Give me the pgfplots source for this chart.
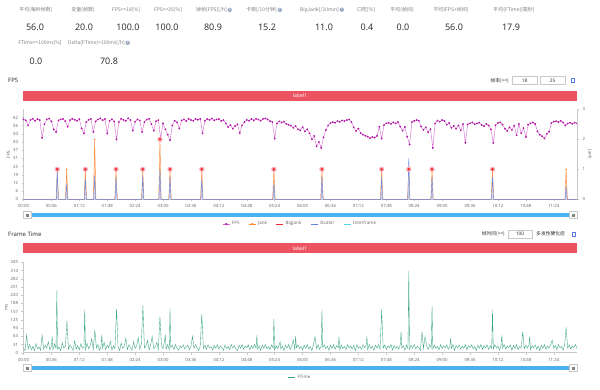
\documentclass[border=0pt]{standalone}
\usepackage{pgfplots}
\pgfplotsset{compat=1.18}
\usepackage{fontspec}
\setmainfont{Noto Sans}
\newfontfamily\cjk{Noto Sans CJK SC}
\definecolor{lbl}{RGB}{130,130,130}
\definecolor{val}{RGB}{51,51,51}
\definecolor{barred}{RGB}{236,84,98}
\definecolor{slider}{RGB}{41,163,240}
\definecolor{fpsline}{RGB}{210,100,205}
\definecolor{fpsmark}{RGB}{180,25,165}
\definecolor{jank}{RGB}{255,138,61}
\definecolor{bigjank}{RGB}{240,40,50}
\definecolor{halo}{RGB}{250,175,180}
\definecolor{stutter}{RGB}{95,135,225}
\definecolor{interf}{RGB}{80,215,230}
\definecolor{ftime}{RGB}{55,165,120}
\definecolor{axisgray}{RGB}{200,200,200}
\definecolor{ticktext}{RGB}{110,110,110}
\definecolor{qcol}{RGB}{150,165,190}
\definecolor{iconblue}{RGB}{90,120,230}
\newcommand{\qm}{\hspace{0.8pt}\raisebox{-0.4pt}{\tikz{\node[circle,fill=qcol,text=white,inner sep=0pt,minimum size=4.3pt,font=\fontsize{3.4}{3.4}\selectfont\bfseries]{?};}}}
\pgfplotsset{
  base/.style={scale only axis, width=553.5pt, xmin=0, xmax=714,
    axis line style={axisgray, line width=0.5pt},
    tick style={axisgray, line width=0.4pt}, major tick length=2pt, tick align=outside,
    ticklabel style={font=\fontsize{4.3}{5}\selectfont, text=ticktext},
    label style={font=\fontsize{4.5}{5}\selectfont, text=ticktext},
    /pgf/number format/assume math mode=true,
    xtick={0,36,...,684},
    xticklabels={00:00,00:36,01:12,01:48,02:24,03:00,03:36,04:12,04:48,05:24,06:00,06:36,07:12,07:48,08:24,09:00,09:36,10:12,10:48,11:24},
    legend style={draw=none, fill=none, font=\fontsize{4.5}{5}\selectfont, text=ticktext,
      /tikz/every even column/.append style={column sep=7pt}},
    legend image code/.code={\draw[mark repeat=2,mark phase=2,##1] plot coordinates {(0pt,0pt) (3.5pt,0pt) (7pt,0pt)};},
  },
}
\begin{document}
\begin{tikzpicture}
\path[fill=white] (0pt,0pt) rectangle (600pt,389pt);
% ---------- stats header and chrome ----------
\begin{scope}[x=1pt,y=1pt,every node/.style={inner sep=0pt}]
\def\LY{379}\def\VY{362}
\tikzset{lab/.style={font=\cjk\fontsize{5}{6}\selectfont, text=lbl}, num/.style={font=\fontsize{9}{10}\selectfont, text=val}}
\node[lab] at (36,\LY) {平均(每秒帧数)};        \node[num] at (35,\VY) {56.0};
\node[lab] at (83,\LY) {变量(帧数)};            \node[num] at (84,\VY) {20.0};
\node[lab] at (126,\LY) {FPS>=18[\%]};          \node[num] at (128,\VY) {100.0};
\node[lab] at (168,\LY) {FPS>=25[\%]};          \node[num] at (167,\VY) {100.0};
\node[lab] at (214,\LY) {掉帧(FPS)[/h]\qm};     \node[num] at (213,\VY) {80.9};
\node[lab] at (264,\LY) {卡顿[/10分钟]\qm};     \node[num] at (267,\VY) {15.2};
\node[lab] at (322,\LY) {BigJank[/10min]\qm};   \node[num] at (324,\VY) {11.0};
\node[lab] at (366,\LY) {口吃[\%]};             \node[num] at (367,\VY) {0.4};
\node[lab] at (402,\LY) {平均(帧间)};           \node[num] at (403,\VY) {0.0};
\node[lab] at (451,\LY) {平均(FPS+帧间)};       \node[num] at (454,\VY) {56.0};
\node[lab] at (514,\LY) {平均(FTime)[毫秒]};    \node[num] at (511,\VY) {17.9};
\node[lab] at (40,346) {FTime>=100ms[\%]};      \node[num] at (36,328) {0.0};
\node[lab] at (99,346) {Delta(FTime)>100ms[/h]\qm}; \node[num] at (109,328) {70.8};
% FPS section chrome
\node[anchor=west, font=\fontsize{6}{7}\selectfont\bfseries, text=val] at (8,308.5) {FPS};
\node[anchor=east, font=\cjk\fontsize{4.8}{5}\selectfont, text=val] at (509,308.5) {帧率(>=)};
\draw[axisgray, line width=0.4pt, fill=white] (512,304.5) rectangle (537,312.5);
\node[font=\fontsize{4.8}{5}\selectfont, text=val] at (524.5,308.5) {18};
\draw[axisgray, line width=0.4pt, fill=white] (540,304.5) rectangle (565,312.5);
\node[font=\fontsize{4.8}{5}\selectfont, text=val] at (552.5,308.5) {25};
\draw[iconblue, line width=0.5pt] (571.5,306.5) rectangle (574.5,310.5);
\fill[barred] (23,288.3) rectangle (577,298.3);
\node[font=\fontsize{5}{6}\selectfont\bfseries, text=white] at (300,293.3) {label1};
\fill[slider!85] (27,172) rectangle (573,176.5);
\draw[axisgray, fill=white, line width=0.4pt] (23,170.5) rectangle (31,178);
\draw[lbl, line width=0.3pt] (25.5,173.3)--(28.5,173.3) (25.5,174.3)--(28.5,174.3) (25.5,175.3)--(28.5,175.3);
\draw[axisgray, fill=white, line width=0.4pt] (569,170.5) rectangle (577,178);
\draw[lbl, line width=0.3pt] (571.5,173.3)--(574.5,173.3) (571.5,174.3)--(574.5,174.3) (571.5,175.3)--(574.5,175.3);
% Frame time section chrome
\node[anchor=west, font=\fontsize{6}{7}\selectfont\bfseries, text=val] at (8,154.7) {Frame Time};
\node[anchor=east, font=\cjk\fontsize{4.8}{5}\selectfont, text=val] at (505,155) {帧时间(>=)};
\draw[axisgray, line width=0.4pt, fill=white] (508,151) rectangle (532,159);
\node[font=\fontsize{4.8}{5}\selectfont, text=val] at (520,155) {100};
\node[anchor=west, font=\cjk\fontsize{4.8}{5}\selectfont, text=val] at (536,155) {多发性硬化症};
\draw[iconblue, line width=0.5pt] (572.5,153) rectangle (575.5,157);
\fill[barred] (23,135.7) rectangle (577,145.7);
\node[font=\fontsize{5}{6}\selectfont\bfseries, text=white] at (300,140.7) {label1};
\fill[slider!85] (27,19) rectangle (573,23.5);
\draw[axisgray, fill=white, line width=0.4pt] (23,17.5) rectangle (31,25);
\draw[lbl, line width=0.3pt] (25.5,20.3)--(28.5,20.3) (25.5,21.3)--(28.5,21.3) (25.5,22.3)--(28.5,22.3);
\draw[axisgray, fill=white, line width=0.4pt] (569,17.5) rectangle (577,25);
\draw[lbl, line width=0.3pt] (571.5,20.3)--(574.5,20.3) (571.5,21.3)--(574.5,21.3) (571.5,22.3)--(574.5,22.3);
\end{scope}

% ---------- FPS chart: left axis ----------
\begin{axis}[base, at={(23.5pt,189.7pt)}, anchor=south west, height=90pt,
  ymin=0, ymax=68.2,
  axis x line*=bottom, axis y line*=left,
  ytick={0,6.2,12.4,18.6,24.8,31,37.2,43.4,49.6,55.8,62},
  yticklabels={0,6,12,19,25,31,37,43,50,56,62},
  ylabel={FPS}, ylabel style={yshift=-4pt}]
\addplot[color=fpsline, line width=0.4pt, mark=*, mark size=0.7pt, mark options={color=fpsmark}] coordinates {
(0,60.5)(3,59.8)(6,56)(9,60.2)(12,61)(15,59.5)(18,60.8)(21,60)(24,46.6)(27,57)(30,60.5)(33,61.2)(36,59)(39,53)(42,51)(45,59.8)(48,60.5)(51,61)(54,59.2)(57,55)(60,60)(63,61)(66,60.3)(69,59.5)(72,60.8)(75,53.7)(78,50)(81,58.5)(84,60.2)(87,60.9)(90,51)(93,59)(96,60.5)(99,61.3)(102,59.9)(105,60.8)(108,50)(111,59.5)(114,60.6)(117,59)(120,45.4)(123,58.5)(126,61)(129,60.2)(132,59.4)(135,61.5)(138,60)(141,52)(144,58.8)(147,60.5)(150,59.7)(153,51)(156,58.5)(159,60.4)(162,61)(165,57)(168,52)(171,59.2)(174,60)(177,46)(180,57.5)(183,53)(186,49)(189,44.8)(192,56)(195,59.5)(198,58.3)(201,53.6)(204,59.8)(207,60.5)(210,59.2)(213,61)(216,60.1)(219,59.5)(222,60.8)(225,60.3)(228,61)(231,50)(234,59.6)(237,60.8)(240,60.2)(243,61.2)(246,59.8)(249,60.5)(252,60.9)(255,59.4)(258,60)(261,57.5)(264,54.8)(267,56.2)(270,53.5)(273,55.5)(276,56.8)(279,50.2)(282,56)(285,58.5)(288,60.2)(291,59.5)(294,60.8)(297,59.8)(300,61)(303,60.4)(306,59.6)(309,60.9)(312,61.3)(315,60.5)(318,59.2)(321,58.5)(324,46)(327,57.5)(330,59)(333,58.2)(336,58.8)(339,57.2)(342,56.5)(345,55.8)(348,54.2)(351,55.5)(354,53)(357,52.2)(360,54.6)(363,51.5)(366,53)(369,50)(372,45.5)(375,48)(378,40.2)(381,43.5)(384,39)(387,47)(390,52.5)(393,56)(396,57.8)(399,58.5)(402,58)(405,59.2)(408,58.6)(411,59.8)(414,59.3)(417,60)(420,60.5)(423,58.5)(426,54.6)(429,51.8)(432,53.5)(435,50.2)(438,49)(441,48.2)(444,47.5)(447,46.3)(450,47.2)(453,46.8)(456,48)(459,55)(462,46)(465,56.2)(468,57.6)(471,58)(474,57.2)(477,58.3)(480,57.5)(483,58.6)(486,55)(489,52)(492,54.8)(495,47.5)(498,41.5)(501,58.5)(504,59.4)(507,60.1)(510,59.6)(513,55.2)(516,52.6)(519,54.5)(522,50.8)(525,53.2)(528,39)(531,57.5)(534,59.6)(537,58.8)(540,60.1)(543,59.4)(546,56.5)(549,57.8)(552,54.2)(555,55.6)(558,53.5)(561,56)(564,52.3)(567,57)(570,42.8)(573,56.8)(576,57.6)(579,58.2)(582,56.9)(585,57.5)(588,58.1)(591,56.3)(594,55.4)(597,57.2)(600,55.9)(603,53)(606,42.8)(609,56.2)(612,57.8)(615,58.4)(618,56.6)(621,53.5)(624,51.8)(627,54.5)(630,52.6)(633,55.8)(636,48.5)(639,57)(642,50.2)(645,54)(648,47.2)(651,56.5)(654,57.6)(657,58.2)(660,57)(663,51.5)(666,49)(669,47.8)(672,46.2)(675,49.5)(678,51.2)(681,57.8)(684,58.9)(687,59.2)(690,58.6)(693,59.4)(696,58.2)(699,56)(702,57.4)(705,58)(708,57.2)(711,58.1)(714,57.6)
};
\end{axis}
% ---------- FPS chart: right axis ----------
\begin{axis}[base, at={(23.5pt,189.7pt)}, anchor=south west, height=90pt,
  ymin=0, ymax=3, axis x line=none, axis y line*=right,
  ytick={0,1,2,3},
  ylabel={Jank}, ylabel style={rotate=180, yshift=-4pt},
  legend columns=5, legend style={at={(axis description cs:0.5,-0.274)}, anchor=center}]
\addlegendimage{color=fpsline, line width=0.5pt, mark=*, mark size=0.8pt, mark options={color=fpsmark}}
\addlegendentry{FPS}
\addlegendimage{color=jank, line width=0.6pt, mark=*, mark size=0.8pt}
\addlegendentry{Jank}
\addlegendimage{color=bigjank, line width=0.6pt}
\addlegendentry{BigJank}
\addlegendimage{color=stutter, line width=0.6pt}
\addlegendentry{Stutter}
\addlegendimage{color=interf, line width=0.6pt}
\addlegendentry{Interframe}
\addplot[color=jank, line width=0.4pt, fill=jank!40, forget plot] coordinates {
(0,0)(42,0)(43.6,1)(45.2,0)(54.1,0)(55.7,1)(57.3,0)(78.2,0)(79.8,1)(81.4,0)(90.2,0)(91.8,2)(93.4,0)(117.8,0)(119.4,1)(121,0)(152.2,0)(153.8,1)(155.4,0)(174.4,0)(176,2)(177.6,0)(187.4,0)(189,1)(190.6,0)(228.4,0)(230,1)(231.6,0)(321.4,0)(323,1)(324.6,0)(383.4,0)(385,1)(386.6,0)(460.4,0)(462,1)(463.6,0)(495.4,0)(497,1)(498.6,0)(525.4,0)(527,1)(528.6,0)(603.4,0)(605,1)(606.6,0)(698.4,0)(700,1)(701.6,0)(714,0)
};
\addplot[color=stutter, line width=0.4pt, fill=stutter!30, fill opacity=0.8, forget plot] coordinates {
(0,0)(42.3,0)(43.6,0.95)(44.9,0)(54.4,0)(55.7,0.51)(57,0)(78.5,0)(79.8,0.7)(81.1,0)(90.5,0)(91.8,0.78)(93.1,0)(118.1,0)(119.4,0.74)(120.7,0)(152.5,0)(153.8,0.78)(155.1,0)(174.7,0)(176,1.0)(177.3,0)(187.7,0)(189,0.74)(190.3,0)(228.7,0)(230,0.67)(231.3,0)(321.7,0)(323,0.53)(324.3,0)(383.7,0)(385,0.75)(386.3,0)(460.7,0)(462,0.75)(463.3,0)(495.7,0)(497,1.37)(498.3,0)(525.7,0)(527,0.75)(528.3,0)(603.7,0)(605,0.75)(606.3,0)(698.7,0)(700,0.42)(701.3,0)(714,0)
};
\addplot[only marks, color=jank, mark=*, mark size=0.6pt, forget plot] coordinates {(55.7,1)(91.8,2)(700,1)};
\addplot[only marks, color=halo, mark=*, mark size=2.4pt, forget plot] coordinates {
(43.6,1)(79.8,1)(119.4,1)(153.8,1)(176,2)(189,1)(230,1)(323,1)(385,1)(462,1)(497,1)(527,1)(605,1)};
\addplot[only marks, color=bigjank, mark=*, mark size=1.1pt, forget plot] coordinates {
(43.6,1)(79.8,1)(119.4,1)(153.8,1)(176,2)(189,1)(230,1)(323,1)(385,1)(462,1)(497,1)(527,1)(605,1)};
\end{axis}

% ---------- Frame Time chart ----------
\begin{axis}[base, at={(23.5pt,36.3pt)}, anchor=south west, height=90.4pt,
  ymin=0, ymax=345,
  axis x line*=bottom, axis y line*=left,
  ytick={0,31.36,62.73,94.09,125.45,156.82,188.18,219.55,250.91,282.27,313.64,345},
  yticklabels={0,31,63,94,125,157,188,220,251,282,314,345},
  ylabel={ms}, ylabel style={yshift=-4pt},
  legend style={at={(axis description cs:0.5,-0.272)}, anchor=center}]
\addplot[color=ftime, line width=0.35pt] coordinates {
(0,17)(2,9)(4,68)(6,14)(8,31)(10,11)(12,24)(14,7)(16,35)(18,15)(20,22)(22,9)(24,67)(26,13)(28,29)(30,18)(32,42)(34,10)(36,26)(37,62)(38,12)(40,33)(42,16)(43,237)(44,14)(46,21)(48,8)(50,38)(52,17)(54,25)(56,121)(58,12)(60,30)(62,19)(64,9)(66,46)(68,14)(70,27)(72,11)(74,34)(76,18)(78,23)(79,163)(80,10)(82,36)(84,15)(86,28)(88,52)(90,13)(92,87)(94,19)(96,31)(98,9)(100,25)(101,68)(102,16)(104,40)(106,12)(108,29)(110,18)(112,44)(114,10)(116,26)(118,15)(120,169)(122,21)(124,8)(126,37)(128,17)(130,24)(132,55)(134,12)(136,31)(138,19)(140,9)(142,42)(144,16)(146,27)(148,58)(150,13)(152,33)(154,180)(156,18)(158,25)(160,47)(162,11)(164,30)(166,62)(168,15)(170,22)(172,39)(174,12)(176,138)(178,27)(180,16)(182,45)(183,68)(184,14)(186,31)(188,10)(189,169)(190,19)
(192,28)(194,12)(196,31)(198,17)(200,9)(202,27)(204,18)(206,30)(208,14)(210,22)(212,29)(214,11)(216,25)(218,62)(220,17)(222,31)(224,19)(226,8)(228,26)(230,147)(232,16)(234,29)(236,13)(238,31)(240,18)(242,23)(244,10)(246,28)(248,17)(250,31)(252,14)(254,26)(256,19)(258,9)(260,30)(262,16)(264,24)(266,12)(268,31)(270,18)(272,27)(274,15)(276,8)(278,29)(280,17)(282,31)(284,13)(286,25)(288,19)(290,30)(292,11)(294,27)(296,16)(298,31)(300,18)(301,66)(302,14)(304,26)(306,9)(308,29)(310,17)(312,31)(314,15)(316,24)(318,12)(320,30)(322,18)(323,129)(324,10)(326,27)(328,16)(330,31)(331,42)(332,14)(334,25)(336,8)(338,29)(340,17)(342,31)(344,13)(346,26)(348,48)(350,11)(351,62)(352,19)(354,30)(356,15)(358,24)(360,10)(362,28)(364,17)(366,31)(368,14)(370,23)(372,8)(374,29)(376,62)(378,16)(380,31)(382,12)(384,26)(385,163)(386,18)(388,30)(390,15)(392,25)(394,9)(396,29)(398,17)(400,31)(402,13)(404,27)(406,19)(407,62)(408,10)(410,30)(412,16)(414,24)(416,12)(418,31)(420,18)(422,26)(424,14)(426,29)(428,8)(430,31)(432,17)(434,23)(436,13)(438,30)(440,19)(442,27)(443,62)(444,11)(446,31)(448,16)(450,25)(452,9)(454,29)(456,18)(458,31)(460,14)(462,163)(464,17)(466,30)(468,12)(470,26)(472,19)(474,31)(476,10)(478,28)(480,16)(482,24)(484,13)(486,31)(487,80)(488,18)(490,27)(492,9)(494,30)(496,15)(497,312)(498,12)(500,29)(502,17)(504,31)(506,14)(508,25)(510,19)(512,8)(514,80)(516,16)(518,62)(520,28)(522,12)(524,31)(526,18)(527,180)(528,14)(530,29)(532,17)(534,24)(536,10)(538,31)(540,15)(542,27)(544,19)(546,30)(548,13)(550,25)(551,55)(552,16)(554,31)(556,9)(558,28)(560,18)(562,30)(564,14)(566,26)(568,17)(570,31)(572,11)(574,27)(576,19)(578,30)(580,15)(582,24)(584,8)(586,29)(588,17)(590,31)(592,13)(594,26)(596,18)(598,30)(600,12)(602,27)(604,16)(605,163)(606,14)(608,31)(610,18)(612,25)(614,10)(616,29)(617,66)(618,17)(620,31)(622,14)(624,26)(626,19)(628,30)(630,9)(632,28)(634,16)(636,31)(638,12)(640,24)(642,18)(644,80)(646,15)(648,29)(650,17)(652,31)(653,62)(654,11)(656,27)(658,19)(660,30)(662,14)(664,25)(666,8)(668,29)(670,17)(672,31)(674,13)(676,26)(678,18)(680,30)(682,48)(684,16)(686,28)(688,12)(690,31)(692,19)(694,24)(696,10)(698,29)(700,97)(702,17)(704,30)(706,14)(708,26)(710,18)(712,31)(714,16)
};
\addlegendentry{FTime}
\end{axis}
\end{tikzpicture}
\end{document}
